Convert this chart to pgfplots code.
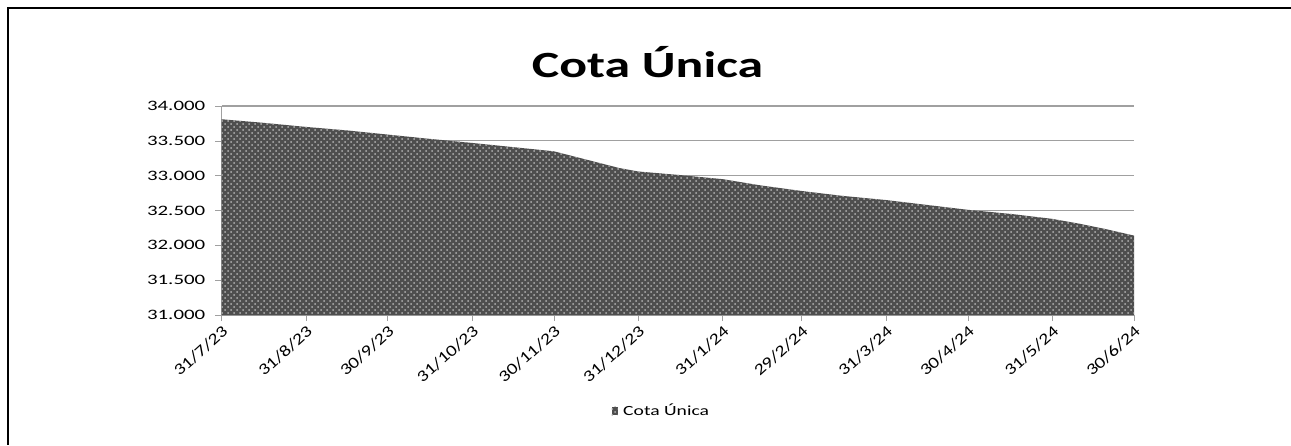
\documentclass[border=0pt]{standalone}
\usepackage{pgfplots}
\pgfplotsset{compat=1.18}
\usepackage{fontspec}
\setmainfont{Carlito}
\usetikzlibrary{patterns}

\definecolor{gridgray}{RGB}{160,160,160}
\definecolor{fillgray}{RGB}{78,78,78}

\newcommand\sx[1]{\scalebox{1.25}[1]{#1}}

% days counted from 31/7/23
\pgfplotstableread{
day value
0   33.81
15  33.76
31  33.70
46  33.65
61  33.59
76  33.53
92  33.47
107 33.41
122 33.35
130 33.27
138 33.19
146 33.11
153 33.06
168 33.01
184 32.95
198 32.86
213 32.78
228 32.71
244 32.65
259 32.58
274 32.51
290 32.45
305 32.38
315 32.31
325 32.23
335 32.14
}\cota

\begin{document}
\begin{tikzpicture}
\useasboundingbox (0,0) rectangle (645.5pt,-222.5pt);
\draw[line width=1.3pt] (645.5pt,-4pt) -- (4pt,-4pt) -- (4pt,-222.5pt);

\node[font=\fontsize{18.5}{22}\selectfont\bfseries, xscale=1.4] at (323.75pt,-31pt) {Cota Única};

\begin{axis}[
at={(110.75pt,-157.5pt)}, anchor=south west,
scale only axis,
width=456.25pt, height=104.5pt,
xmin=0, xmax=335,
ymin=31, ymax=34,
axis x line*=bottom,
axis y line*=left,
axis line style={gridgray},
tick align=outside,
major tick length=3pt,
tick style={gridgray},
xtick={0,31,61,92,122,153,184,213,244,274,305,335},
xticklabels={\sx{31/7/23},\sx{31/8/23},\sx{30/9/23},\sx{31/10/23},\sx{30/11/23},\sx{31/12/23},\sx{31/1/24},\sx{29/2/24},\sx{31/3/24},\sx{30/4/24},\sx{31/5/24},\sx{30/6/24}},
ytick={31,31.5,32,32.5,33,33.5,34},
ymajorgrids,
y grid style={gridgray, line width=0.6pt},
/pgf/number format/assume math mode=true,
yticklabel style={font=\fontsize{7.2}{8}\selectfont, xscale=1.45, anchor=east,
  /pgf/number format/fixed, /pgf/number format/fixed zerofill, /pgf/number format/precision=3},
xticklabel style={font=\fontsize{8}{9}\selectfont, rotate=42, anchor=north east, inner sep=1pt},
legend style={at={(0.484,-0.459)}, anchor=center, draw=none, fill=none,
  font=\fontsize{7}{8}\selectfont, nodes={xscale=1.4}},
legend image code/.code={\fill[#1] (0pt,-2.2pt) rectangle (3pt,2.2pt);},
]
\addplot[draw=none, fill=fillgray,
  postaction={pattern=crosshatch dots, pattern color=white!70!black}]
  table[x=day, y=value] {\cota} \closedcycle;
\addlegendentry{Cota Única}
\end{axis}
\end{tikzpicture}
\end{document}
